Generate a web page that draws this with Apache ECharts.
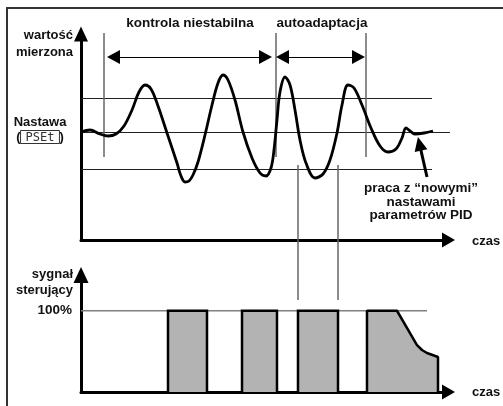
<!DOCTYPE html>
<html><head><meta charset="utf-8">
<script src="https://cdn.jsdelivr.net/npm/echarts@6/dist/echarts.min.js"></script>
<style>html,body{margin:0;padding:0;background:#fff}#c{width:503px;height:406px}</style>
</head><body><div id="c"></div>
<script>
// ---- data (time units along the shared time axis) ----
const curveT = [0,3,6.33,9,11.67,14.33,17,19.33,21.33,23.33,25.67,28.67,32,33.33,34.67,36,37.33,39,41.33,43.67,45.67,47.33,49,51.33,54,57,59.67,61.67,63.33,64.33,65.33,66.33,68,69.67,71.33,73,75,78,80.67,83,85.33,87,89,91,93.67,96.67,99.67,102.33,105,107,108.33,109.67,111.33,114.33,117.33];
const curveV = [54,55,53,52,53,57,65,74,77.5,75.5,67,53.5,38.5,32,29,29.5,32.5,39,52.5,67.5,78.5,82.5,80,70,54,41,33.5,32,36,45,60,74,81.5,77.5,65,50,38.5,31,33,40,53.5,67.5,77.5,76,67.5,56,47,44,45.5,51,56,54.5,53,53.5,54.5];
const bandLevels = [70.75, 53.75, 35.25];
const bandEnds = [117, 124, 117];
const phaseMarkers = [7.67, 65, 95];
const phaseMarkerRange = [41.5, 103.5];
const crossMarkers = [72.33, 85.67];
const crossMarkerRange = [-30, 37.5];
const phaseArrowLevel = 91.5;
const phaseArrows = [[10.83, 61.5], [67.17, 92.5]];
const phaseTitles = ['kontrola niestabilna', 'autoadaptacja'];
const pointerFrom = [115.33, 31.5];
const pointerTo = [112.83, 48.1];
const pulseStart = [29, 53.67, 72.33];
const pulseEnd = [42, 65.33, 85.67];
const pulseLevel = 100;
const lastPulseT = [95.33, 95.33, 105.33, 112, 113.67, 115.33, 119, 119];
const lastPulseV = [0, 100, 100, 57.8, 51.7, 48, 43.1, 0];
const fullLineEnd = 115.33;
const signalTicks = [100];
const signalTickLabels = ['100%'];

const FONT = '"Liberation Sans", Arial, sans-serif';
const chart = echarts.init(document.getElementById('c'), null, {renderer: 'canvas'});

function seg(x0, y0, x1, y1) { return [[x0, y0], [x1, y1]]; }
function plainLine(data, color, width, xi, z) {
  return {type: 'line', xAxisIndex: xi, yAxisIndex: xi, data: data, symbol: 'none', clip: false,
    silent: true, animation: false, z: z || 2, lineStyle: {color: color, width: width}};
}

const series = [];
bandLevels.forEach((lv, i) => series.push(plainLine(seg(0, lv, bandEnds[i], lv), '#222', 1, 0, 1)));
phaseMarkers.forEach(t => series.push(plainLine(seg(t, phaseMarkerRange[0], t, phaseMarkerRange[1]), '#666', 1.5, 0, 1)));
crossMarkers.forEach(t => series.push(plainLine(seg(t, crossMarkerRange[0], t, crossMarkerRange[1]), '#666', 1.5, 0, 1)));
series.push({type: 'line', xAxisIndex: 0, yAxisIndex: 0, data: curveT.map((t, i) => [t, curveV[i]]),
  symbol: 'none', smooth: 0.35, clip: false, silent: true, animation: false, z: 5,
  lineStyle: {color: '#000', width: 2.8}});
// phase arrows and pointer arrow
series.push({type: 'line', xAxisIndex: 0, yAxisIndex: 0, data: [], silent: true, animation: false,
  markLine: {silent: true, animation: false, symbol: ['triangle', 'triangle'], symbolSize: [14, 13],
    label: {show: false}, emphasis: {disabled: true},
    lineStyle: {color: '#000', width: 1, type: 'solid'},
    data: phaseArrows.map(a => [{coord: [a[0], phaseArrowLevel]}, {coord: [a[1], phaseArrowLevel]}])}});
series.push({type: 'line', xAxisIndex: 0, yAxisIndex: 0, data: [], silent: true, animation: false,
  markLine: {silent: true, animation: false, symbol: ['none', 'triangle'], symbolSize: [13, 14],
    label: {show: false}, emphasis: {disabled: true},
    lineStyle: {color: '#000', width: 3, type: 'solid'},
    data: [[{coord: pointerFrom}, {coord: pointerTo}]]}});
// lower chart
series.push(plainLine(seg(0, pulseLevel, fullLineEnd, pulseLevel), '#808080', 1.5, 1, 1));
pulseStart.forEach((s, i) => {
  const e = pulseEnd[i];
  series.push({type: 'line', xAxisIndex: 1, yAxisIndex: 1, data: [[s, 0], [s, pulseLevel], [e, pulseLevel], [e, 0]],
    symbol: 'none', clip: false, silent: true, animation: false, z: 3,
    lineStyle: {color: '#000', width: 2.5, join: 'miter'}, areaStyle: {color: '#b3b3b3', opacity: 1}});
});
series.push({type: 'line', xAxisIndex: 1, yAxisIndex: 1, data: lastPulseT.map((t, i) => [t, lastPulseV[i]]),
  symbol: 'none', clip: false, silent: true, animation: false, z: 3,
  lineStyle: {color: '#000', width: 2.5}, areaStyle: {color: '#b3b3b3', opacity: 1}});

const axisLineStyle = {color: '#000', width: 3};
function timeAxis(gi) {
  return {type: 'value', gridIndex: gi, min: 0, max: 122.5,
    axisLine: {show: true, onZero: false, symbol: ['none', 'triangle'], symbolSize: [15, 13], lineStyle: axisLineStyle},
    axisTick: {show: false}, axisLabel: {show: false}, splitLine: {show: false}};
}
const frameAxis = {axisLine: {show: true, onZero: false, lineStyle: {color: '#333', width: 2}},
  axisTick: {show: false}, axisLabel: {show: false}, splitLine: {show: false}};

function txt(text, x, y, align, size, lh) {
  return {type: 'text', x: x, y: y, silent: true, z: 100,
    style: {text: text, fill: '#111', font: 'bold ' + size + 'px ' + FONT,
      textAlign: align, align: align, textVerticalAlign: 'middle', verticalAlign: 'middle', lineHeight: lh || size + 2}};
}

const option = {
  animation: false,
  backgroundColor: '#fff',
  grid: [
    {left: 81, top: 34, width: 367.5, height: 206, containLabel: false, outerBoundsMode: 'none'},
    {left: 81, top: 275, width: 367.5, height: 117, containLabel: false, outerBoundsMode: 'none'},
    {left: 7, top: 8, right: -30, bottom: -30, show: false, containLabel: false, outerBoundsMode: 'none'}
  ],
  xAxis: [timeAxis(0), timeAxis(1), Object.assign({type: 'value', gridIndex: 2, position: 'top', min: 0, max: 1}, frameAxis)],
  yAxis: [
    {type: 'value', gridIndex: 0, min: 0, max: 103,
      axisLine: {show: true, onZero: false, symbol: ['none', 'triangle'], symbolSize: [14, 15], lineStyle: axisLineStyle},
      axisTick: {show: false}, axisLabel: {show: false}, splitLine: {show: false}},
    {type: 'value', gridIndex: 1, min: 0, max: 144, interval: 100,
      axisLine: {show: true, onZero: false, symbol: ['none', 'triangle'], symbolSize: [15, 16], lineStyle: axisLineStyle},
      axisTick: {show: false}, splitLine: {show: false},
      axisLabel: {show: true, margin: 9, color: '#111', fontFamily: FONT, fontWeight: 'bold', fontSize: 13.5,
        formatter: v => { const k = signalTicks.indexOf(v); return k >= 0 ? signalTickLabels[k] : ''; }}},
    Object.assign({type: 'value', gridIndex: 2, position: 'left', min: 0, max: 1}, frameAxis)
  ],
  series: series,
  graphic: {elements: [
    txt(phaseTitles[0], 190, 23, 'center', 13.5),
    txt(phaseTitles[1], 322, 23, 'center', 13.5),
    txt('wartość\nmierzona', 73, 43.5, 'right', 13, 17),
    txt('Nastawa', 40, 122, 'center', 13),
    {type: 'text', x: 40, y: 137, silent: true, z: 100,
      style: {text: '({b|PSEt})', fill: '#111', font: 'bold 13px ' + FONT, textAlign: 'center', align: 'center',
        textVerticalAlign: 'middle', verticalAlign: 'middle',
        rich: {b: {fill: '#333', color: '#333', font: 'normal 12px "DejaVu Sans Mono", monospace', fontFamily: 'DejaVu Sans Mono',
          fontSize: 12, fontWeight: 'normal', borderColor: '#333', borderWidth: 1, padding: [1, 5, 0, 5], lineHeight: 12}}}},
    txt('praca z “nowymi”\nnastawami\nparametrów PID', 421, 202, 'center', 13.5, 13.5),
    txt('czas', 472, 241, 'left', 13),
    txt('czas', 472, 392, 'left', 13),
    txt('sygnał\nsterujący', 73, 282.5, 'right', 13, 15.5)
  ]}
};
chart.setOption(option);
</script></body></html>
